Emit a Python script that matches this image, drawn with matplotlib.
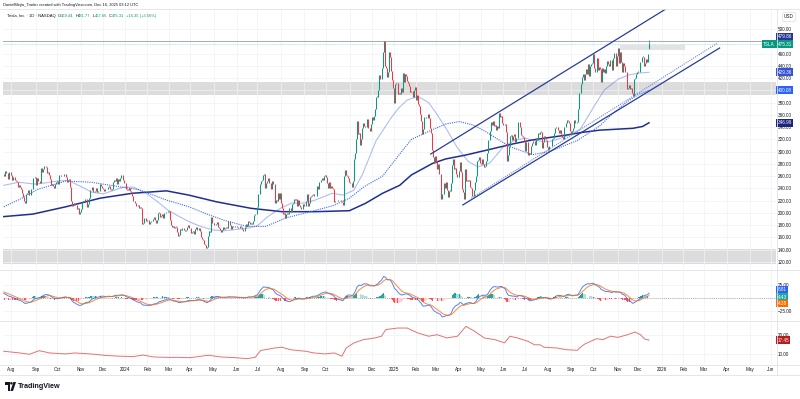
"""TSLA daily chart in TradingView style: candles, MAs, channel, MACD and ATR panes."""

import matplotlib

matplotlib.use("Agg")

import matplotlib.pyplot as plt
import numpy as np
import pandas as pd
from matplotlib.lines import Line2D
from matplotlib.patches import Circle, Polygon, Rectangle
from matplotlib.transforms import Affine2D

plt.rcParams["font.family"] = ["Liberation Sans", "DejaVu Sans"]

W, H = 800, 399

HOLIDAYS = [
    "2023-09-04", "2023-11-23", "2023-12-25", "2024-01-01", "2024-01-15",
    "2024-02-19", "2024-03-29", "2024-05-27", "2024-06-19", "2024-07-04",
    "2024-09-02", "2024-11-28", "2024-12-25", "2025-01-01", "2025-01-09",
    "2025-01-20", "2025-02-17", "2025-04-18", "2025-05-26", "2025-06-19",
    "2025-07-04", "2025-09-01", "2025-11-27", "2025-12-25", "2026-01-01",
    "2026-01-19", "2026-02-16", "2026-04-03", "2026-05-25", "2026-06-19",
]

# daily closes, 2023-07-21 .. 2023-12-29
close_2023 = [
    260.0, 269.1, 265.3, 264.4, 255.7, 266.4, 267.4,
    261.1, 254.1, 259.3, 253.9, 251.5, 249.7, 242.2, 245.3, 242.7, 239.8, 233.0, 225.6,
    219.2, 215.5, 231.3, 233.2, 236.9, 230.0, 238.6, 238.8, 257.2, 256.9, 258.1,
    245.0, 256.5, 251.9, 251.5, 248.5, 273.6, 267.5, 271.3, 276.0, 274.4, 265.3, 266.5,
    262.6, 255.7, 244.9, 247.0, 244.1, 240.5, 246.4, 250.2,
    251.6, 246.5, 261.2, 260.1, 260.5, 259.7, 263.6, 263.0, 258.9, 251.1, 253.9, 254.9,
    242.7, 220.1, 212.0, 212.1, 216.5, 212.4, 205.8, 207.3, 197.4, 200.8,
    205.7, 218.5, 220.0, 219.3, 222.2, 222.1, 210.0, 214.7, 223.7, 237.4, 242.8, 233.6,
    234.3, 235.6, 241.2, 234.2, 235.5, 236.1, 246.7, 244.1, 240.1,
    238.8, 235.6, 238.7, 239.4, 242.6, 243.8, 239.7, 237.0, 239.3, 251.1, 253.5, 252.1,
    257.2, 247.1, 254.5, 252.5, 256.6, 261.4, 253.2, 248.5,
]
close_2024 = [
    248.4, 238.5, 237.9, 237.5, 240.5, 235.0, 233.9, 227.2, 218.9, 219.9, 215.6, 211.9,
    212.2, 208.8, 209.1, 207.8, 182.6, 183.3, 190.9, 191.6, 187.3,
    188.9, 187.9, 181.1, 185.1, 187.6, 189.6, 193.6, 188.1, 184.0, 188.7, 200.5, 200.0,
    193.8, 194.8, 197.4, 192.0, 199.4, 199.7, 202.0, 201.9,
    202.6, 188.1, 180.7, 176.5, 178.7, 175.3, 177.8, 177.5, 169.5, 162.5, 163.6, 173.8,
    171.3, 175.7, 172.8, 170.8, 172.6, 177.7, 179.8, 175.8,
    175.2, 166.6, 168.4, 171.1, 164.9, 173.0, 176.9, 171.8, 174.6, 171.1, 161.5, 157.1,
    155.5, 149.9, 147.1, 142.1, 144.7, 162.1, 170.2, 168.3, 194.1, 183.3,
    180.0, 180.0, 181.2, 184.8, 177.8, 174.7, 172.0, 168.5, 171.9, 177.6, 174.0, 174.8,
    177.5, 175.0, 186.6, 180.1, 173.7, 179.2, 176.8, 176.2, 178.8, 178.1,
    176.3, 174.8, 175.0, 177.9, 177.5, 173.8, 170.7, 177.3, 182.5, 178.0, 187.4, 184.9,
    181.6, 183.0, 182.6, 187.4, 196.4, 197.4, 197.9,
    209.9, 231.3, 246.4, 251.5, 252.9, 262.3, 263.3, 241.0, 248.2, 252.6, 256.6, 248.5,
    249.2, 239.2, 251.5, 246.4, 216.0, 220.3, 219.8, 232.1, 222.6, 232.1,
    216.9, 207.7, 198.9, 200.6, 191.8, 198.8, 200.0, 197.5, 207.8, 201.4, 214.1, 216.1,
    222.7, 221.1, 223.3, 210.7, 220.3, 213.2, 209.2, 205.8, 206.3, 214.1,
    210.6, 219.4, 230.2, 210.7, 216.3, 226.2, 228.1, 229.8, 230.3, 226.8, 227.9, 227.2,
    243.9, 238.3, 250.0, 254.3, 257.0, 254.2, 260.5, 261.6,
    258.0, 249.0, 240.7, 250.1, 240.8, 244.5, 241.1, 238.8, 217.8, 219.2, 219.6, 221.3,
    220.9, 220.7, 218.9, 218.0, 213.7, 260.5, 269.2, 262.5, 259.5, 257.6, 249.9,
    249.0, 242.8, 251.4, 288.5, 296.9, 321.2, 350.0, 328.5, 330.2, 311.2, 320.7, 338.7,
    346.0, 342.0, 339.6, 352.6, 338.6, 338.2, 332.9, 345.2,
    357.1, 351.4, 357.9, 369.5, 389.2, 389.8, 401.0, 424.8, 418.1, 436.2, 463.0, 479.9,
    440.1, 436.2, 421.1, 430.6, 462.3, 454.1, 431.7, 417.4, 403.8,
]
close_2025 = [
    379.3, 410.4, 411.1, 394.4, 394.9, 394.7, 403.3, 396.4, 428.2, 413.8, 426.5, 424.1,
    415.1, 412.4, 406.6, 397.2, 398.1, 389.1, 400.3, 404.6,
    383.7, 392.2, 378.2, 374.3, 361.6, 350.7, 328.5, 336.5, 355.9, 355.8, 354.1, 360.6,
    354.4, 337.8, 330.5, 302.8, 290.8, 282.0, 293.0,
    284.7, 272.0, 279.1, 263.5, 262.7, 222.2, 230.6, 248.1, 240.7, 250.0, 238.0, 225.3,
    235.9, 236.3, 248.7, 278.4, 288.1, 272.1, 273.1, 263.6, 259.2,
    268.5, 282.8, 267.3, 239.4, 233.3, 221.9, 272.2, 252.4, 252.3, 252.4, 254.1, 241.6,
    241.4, 227.5, 238.0, 250.7, 259.5, 285.0, 285.9, 292.0, 282.2,
    280.5, 287.2, 280.3, 275.4, 276.2, 284.8, 298.3, 318.4, 334.1, 347.7, 342.8, 350.0,
    342.1, 343.8, 334.6, 341.0, 339.3, 362.9, 356.9, 358.4, 346.5,
    342.7, 344.3, 332.1, 284.7, 295.1, 308.6, 326.1, 326.4, 319.1, 325.3, 329.1, 316.4,
    322.1, 322.2, 348.7, 340.5, 327.6, 325.8, 323.6, 317.7,
    300.7, 315.7, 315.4, 293.9, 297.8, 295.9, 309.9, 313.5, 316.9, 310.8, 321.7, 319.4,
    329.7, 328.5, 332.1, 332.6, 305.3, 316.1, 325.6, 321.2, 319.0, 308.3,
    302.6, 309.3, 308.7, 319.9, 322.3, 329.7, 339.0, 340.8, 339.4, 335.6, 330.6, 335.2,
    329.3, 323.9, 320.1, 340.0, 346.6, 351.7, 349.6, 346.0, 333.9,
    329.4, 334.1, 338.5, 350.8, 346.4, 347.0, 347.8, 368.8, 395.9, 410.0, 421.6, 425.9,
    416.9, 426.1, 434.2, 425.9, 442.8, 423.4, 440.4, 443.2, 444.7,
    459.5, 436.0, 429.8, 453.3, 433.1, 438.7, 435.5, 413.5, 435.9, 429.2, 435.2, 428.8,
    439.3, 447.4, 442.6, 439.0, 449.0, 433.7, 452.4, 460.6, 461.5, 440.1, 456.6,
    468.4, 444.3, 462.1, 445.9, 429.5, 445.2, 439.6, 430.6, 402.0, 404.4, 408.9, 401.3,
    404.0, 395.2, 391.1, 417.8, 419.4, 426.6, 430.2,
    430.1, 429.2, 446.7, 454.5, 455.0, 439.6, 445.2, 451.5, 446.9, 459.0, 475.3,
]
# last bar as given in the legend
last_ohlc = (469.44, 481.77, 467.66, 475.31)
# closes Jun 1 .. Jul 20 2023, used only to warm up the MACD
warmup_close = [
    207.5, 214.0, 217.6, 221.3, 224.6, 234.9, 244.4, 249.8, 258.7, 256.8, 255.9, 260.5,
    274.5, 259.5, 264.6, 256.6, 241.1, 250.2, 256.2, 257.5, 261.8,
    279.8, 276.5, 277.0, 274.4, 269.6, 269.8, 272.0, 277.9, 281.4, 290.4, 293.3, 291.3,
    262.9,
]

# moving averages
ma_fast = [
    ("2023-07-21", 245), ("2023-08-10", 250), ("2023-08-31", 247), ("2023-09-15", 249),
    ("2023-10-02", 252), ("2023-10-16", 253), ("2023-10-31", 244), ("2023-11-15", 234),
    ("2023-12-01", 231), ("2023-12-15", 237), ("2023-12-29", 242), ("2024-01-12", 242),
    ("2024-01-31", 232), ("2024-02-15", 218), ("2024-02-29", 205), ("2024-03-15", 194),
    ("2024-04-01", 185), ("2024-04-15", 178), ("2024-05-01", 172), ("2024-05-15", 171),
    ("2024-06-03", 173), ("2024-06-17", 175), ("2024-07-01", 179), ("2024-07-15", 193),
    ("2024-08-01", 208), ("2024-08-15", 216), ("2024-09-03", 216), ("2024-09-17", 221),
    ("2024-10-09", 232), ("2024-10-23", 229), ("2024-11-06", 237), ("2024-11-18", 262),
    ("2024-12-06", 318), ("2024-12-27", 355), ("2025-01-08", 371), ("2025-01-22", 384),
    ("2025-02-05", 390), ("2025-02-20", 380), ("2025-03-03", 363), ("2025-03-17", 336),
    ("2025-03-31", 306), ("2025-04-14", 284), ("2025-04-28", 275), ("2025-05-13", 281),
    ("2025-06-02", 308), ("2025-06-16", 318), ("2025-07-01", 322), ("2025-07-15", 318),
    ("2025-08-01", 316), ("2025-08-15", 321), ("2025-09-02", 328), ("2025-09-15", 337),
    ("2025-10-01", 372), ("2025-10-15", 400), ("2025-11-03", 418), ("2025-11-17", 425),
    ("2025-12-01", 428), ("2025-12-15", 429.36),
]
ma_mid = [
    ("2023-07-21", 210), ("2023-08-15", 224), ("2023-09-05", 238), ("2023-10-12", 252),
    ("2023-11-15", 250), ("2023-12-21", 243), ("2024-01-22", 238), ("2024-02-28", 221),
    ("2024-03-28", 210), ("2024-04-23", 198), ("2024-05-15", 188), ("2024-06-14", 178),
    ("2024-07-12", 178), ("2024-08-08", 192), ("2024-09-17", 204), ("2024-10-10", 212),
    ("2024-10-31", 224), ("2024-11-20", 243), ("2024-12-16", 260), ("2025-01-09", 296),
    ("2025-01-28", 320), ("2025-02-26", 336), ("2025-03-14", 345), ("2025-04-02", 349),
    ("2025-04-22", 343), ("2025-05-05", 335), ("2025-06-10", 308), ("2025-07-11", 295),
    ("2025-08-04", 300), ("2025-09-10", 318), ("2025-10-09", 342), ("2025-10-27", 362),
    ("2025-11-14", 382), ("2025-12-01", 393), ("2025-12-15", 400.08),
]
ma_slow = [
    ("2023-07-21", 194), ("2023-08-29", 198), ("2023-10-12", 210), ("2023-11-28", 224),
    ("2024-01-11", 232), ("2024-02-28", 236), ("2024-03-28", 229), ("2024-05-06", 218),
    ("2024-06-21", 207.5), ("2024-08-02", 202), ("2024-09-17", 202), ("2024-10-31", 203.6),
    ("2024-11-21", 215.6), ("2024-12-16", 232), ("2025-01-09", 245), ("2025-01-28", 262),
    ("2025-02-26", 281), ("2025-03-14", 288), ("2025-04-10", 294.5), ("2025-05-29", 308),
    ("2025-06-16", 313), ("2025-07-11", 319), ("2025-08-26", 327), ("2025-09-15", 331),
    ("2025-10-09", 335), ("2025-11-21", 338), ("2025-12-05", 341), ("2025-12-15", 346.99),
]
atr_line = [
    ("2023-07-21", 11.6), ("2023-08-11", 10.7), ("2023-08-24", 10.0), ("2023-09-07", 11.9),
    ("2023-09-21", 10.7), ("2023-10-12", 10.2), ("2023-10-24", 10.7), ("2023-11-06", 10.4),
    ("2023-11-20", 10.0), ("2023-12-05", 9.4), ("2023-12-22", 9.0), ("2024-01-12", 8.8),
    ("2024-01-26", 9.6), ("2024-02-09", 8.6), ("2024-02-28", 8.4), ("2024-03-14", 8.4),
    ("2024-04-01", 8.2), ("2024-04-24", 9.5), ("2024-05-10", 8.6), ("2024-05-31", 8.2),
    ("2024-06-14", 7.7), ("2024-06-27", 8.4), ("2024-07-05", 12.0), ("2024-07-11", 12.4),
    ("2024-07-24", 13.3), ("2024-08-02", 13.7), ("2024-08-14", 12.4), ("2024-09-04", 11.6),
    ("2024-09-16", 10.7), ("2024-09-30", 10.2), ("2024-10-11", 10.7), ("2024-10-22", 9.0),
    ("2024-10-28", 13.3), ("2024-11-06", 15.9), ("2024-11-19", 17.7), ("2024-12-05", 18.6),
    ("2024-12-13", 19.5), ("2024-12-19", 23.0), ("2025-01-07", 23.8), ("2025-01-22", 23.8),
    ("2025-02-05", 21.2), ("2025-02-20", 19.5), ("2025-03-04", 20.3), ("2025-03-17", 18.6),
    ("2025-03-31", 19.5), ("2025-04-10", 24.7), ("2025-04-23", 22.1), ("2025-05-06", 18.6),
    ("2025-05-20", 17.7), ("2025-06-03", 16.0), ("2025-06-10", 19.5), ("2025-06-20", 18.6),
    ("2025-07-07", 16.8), ("2025-07-15", 15.0), ("2025-07-22", 15.0), ("2025-07-28", 13.7),
    ("2025-08-13", 13.3), ("2025-08-26", 12.4), ("2025-09-10", 12.1), ("2025-09-12", 13.3),
    ("2025-09-19", 15.4), ("2025-10-06", 18.2), ("2025-10-14", 17.7), ("2025-10-23", 19.5),
    ("2025-11-03", 18.9), ("2025-11-14", 20.3), ("2025-11-25", 21.7), ("2025-12-03", 20.3),
    ("2025-12-09", 18.0), ("2025-12-15", 17.45),
]

# drawings
channel_upper = [("2025-02-24", 296), ("2026-01-09", 534)]
channel_lower = [("2025-04-07", 213), ("2026-03-23", 469)]
channel_inner = [("2025-04-17", 224), ("2026-03-19", 477)]
zones = [(392, 413), (117, 141)]
top_box = [("2025-11-05", 465), ("2026-02-04", 474)]
ath_close = 479.86

UP, DOWN = "#089981", "#F23645"
TXT = "#131722"
GRID = "#f0f2f6"
SEP = "#e0e3eb"
FS = 3.3

# ---- calendar (bar index axis like TradingView)
closes = np.array(close_2023 + close_2024 + close_2025, dtype=float)
cal = pd.bdate_range("2023-07-21", "2026-06-30", freq="C", holidays=HOLIDAYS)
n = len(closes)
if cal[n - 1] != pd.Timestamp("2025-12-15"):
    raise SystemExit(f"calendar mismatch: {n} bars ends {cal[n - 1]}")


def bar_of(day):
    return int(cal.searchsorted(pd.Timestamp(day)))


def series(points):
    return [bar_of(d) for d, _ in points], [v for _, v in points]


x = np.arange(n)
opens = np.r_[warmup_close[-1], closes[:-1]]
opens[-1] = last_ohlc[0]
up = closes >= opens
lo = np.minimum(opens, closes)
hi = np.maximum(np.maximum(opens, closes), lo + 0.8)

full = pd.Series(warmup_close + list(closes))
macd_full = full.ewm(span=12, adjust=False).mean() - full.ewm(span=26, adjust=False).mean()
signal_full = macd_full.ewm(span=9, adjust=False).mean()
k = len(warmup_close)
macd = macd_full.values[k:]
signal = signal_full.values[k:]
hist = macd - signal
prev = np.r_[hist[0], hist[:-1]]
hist_col = np.where(hist >= 0,
                    np.where(hist >= prev, "#26A69A", "#B2DFDB"),
                    np.where(hist < prev, "#FF5252", "#FFCDD2"))

months = cal.to_period("M")
starts = np.nonzero(months[1:] != months[:-1])[0] + 1
tick_labels = [str(cal[i].year) if cal[i].month == 1 else cal[i].strftime("%b") for i in starts]

# ---- figure
fig = plt.figure(figsize=(W / 100, H / 100), dpi=100, facecolor="white")


def rect(l, t, r, b):
    return [l / W, 1 - b / H, (r - l) / W, (b - t) / H]


ax = fig.add_axes(rect(3, 9, 776, 269))
ax_macd = fig.add_axes(rect(3, 270, 776, 320), sharex=ax)
ax_atr = fig.add_axes(rect(3, 321, 776, 364), sharex=ax)

for a in (ax, ax_macd, ax_atr):
    a.set_facecolor("white")
    for s in a.spines.values():
        s.set_visible(False)
    a.yaxis.tick_right()
    a.tick_params(length=0, labelsize=FS, labelcolor=TXT, pad=1.5)
    a.grid(color=GRID, lw=0.5)
    a.set_axisbelow(True)

ax.set_xlim(-0.75, 721.7)
ax.set_xticks(starts)
ax_atr.set_xticklabels(tick_labels)
ax.tick_params(labelbottom=False)
ax_macd.tick_params(labelbottom=False)
ax_atr.tick_params(axis="x", pad=2.2)

# ---- main pane
ax.set_ylim(108.5, 532.6)
yt = np.arange(120, 501, 20)
ax.set_yticks(yt)
# the 480 label sits under the 479.86 tag in the reference
ax.set_yticklabels(["" if v == 480 else f"{v:.2f}" for v in yt])

for z0, z1 in zones:
    ax.axhspan(z0, z1, color="#d9d9d9", alpha=0.9, lw=0, zorder=0.5)
(b0, p0), (b1, p1) = [(bar_of(d), p) for d, p in top_box]
ax.add_patch(Rectangle((b0, p0), b1 - b0, p1 - p0, fc="#e3e3e3", ec="none", zorder=0.6))

ax.axhline(ath_close, color="#3a4bb0", alpha=0.45, lw=0.7, zorder=1)
ax.axhline(last_ohlc[3], color=UP, alpha=0.35, lw=0.6, ls=(0, (1, 1)), zorder=1)

bx, by = series(ma_slow)
ax.plot(bx, by, color="#1f2f8f", lw=1.1, zorder=2)
bx, by = series(ma_mid)
ax.plot(bx, by, color="#3f6af0", lw=0.8, ls=(0, (1, 1)), zorder=2)
bx, by = series(ma_fast)
ax.plot(bx, by, color="#3b5bdb", alpha=0.4, lw=0.8, zorder=2)

ax.vlines(x, lo, hi, colors=np.where(up, UP, DOWN), lw=0.75, zorder=3)
ax.vlines(n - 1, last_ohlc[2], last_ohlc[1], colors=UP, lw=0.5, zorder=3)

for pts in (channel_upper, channel_lower):
    bx, by = series(pts)
    ax.plot(bx, by, color="#2a3c9c", lw=0.9, zorder=4)
bx, by = series(channel_inner)
ax.plot(bx, by, color="#6f86d6", lw=0.8, ls=(0, (1, 1)), zorder=4)


def tag(a, val, text, color, dy=0.0):
    a.annotate(text, xy=(1, val), xycoords=a.get_yaxis_transform(), xytext=(1.0, dy),
               textcoords="offset points", ha="left", va="center", fontsize=FS,
               color="white", annotation_clip=False, zorder=20,
               bbox=dict(boxstyle="square,pad=0.3", fc=color, ec="none"))


tag(ax, ath_close, "479.86", "#283593", dy=3.4)
tag(ax, last_ohlc[3], "475.31", UP)
ax.annotate("TSLA", xy=(1, last_ohlc[3]), xycoords=ax.get_yaxis_transform(), xytext=(-0.8, 0),
            textcoords="offset points", ha="right", va="center", fontsize=FS, color="white",
            annotation_clip=False, zorder=20,
            bbox=dict(boxstyle="square,pad=0.3", fc=UP, ec="none"))
tag(ax, 429.36, "429.36", "#3552d6")
tag(ax, 400.08, "400.08", "#2962ff")
tag(ax, 346.99, "346.99", "#1a237e")

# ---- MACD pane
ax_macd.set_ylim(-41.4, 52.6)
ax_macd.set_yticks([-25, 0, 25])
ax_macd.set_yticklabels(["−25.00", "0.00", "25.00"])
ax_macd.axhline(0, color="#9598a1", lw=0.5, ls=(0, (1.5, 1.5)), zorder=1)
ax_macd.bar(x, hist, width=0.8, color=hist_col, lw=0, zorder=2)
ax_macd.plot(x, macd, color="#2962FF", lw=0.7, alpha=0.8, zorder=3)
ax_macd.plot(x, signal, color="#FF6D00", lw=0.7, alpha=0.8, zorder=3)
tag(ax_macd, 8.81, "8.81", "#2962FF", dy=2.6)
tag(ax_macd, 4.43, "4.43", "#26A69A", dy=-1.0)
tag(ax_macd, 4.38, "4.38", "#FF6D00", dy=-5.6)

# ---- ATR pane
ax_atr.set_ylim(4.9, 27.5)
ax_atr.set_yticks([10, 20])
ax_atr.set_yticklabels(["10.00", "20.00"])
bx, by = series(atr_line)
ax_atr.plot(bx, by, color="#e05a5a", lw=0.7, alpha=0.85, zorder=3)
tag(ax_atr, 17.45, "17.45", "#b71c1c")

for lbl in ax_atr.get_xticklabels():
    lbl.set_color(TXT)
    lbl.set_fontsize(FS)


# ---- frame, separators, texts
def hline(y, x0=0, x1=W):
    fig.add_artist(Line2D([x0 / W, x1 / W], [1 - y / H] * 2, color=SEP, lw=0.6))


for yy in (9, 269.5, 320.5, 364.5, 375):
    hline(yy)
fig.add_artist(Line2D([776.5 / W] * 2, [1 - 9 / H, 1 - 375 / H], color=SEP, lw=0.6))

fig.text(3 / W, 1 - 4.8 / H, "DanielMejia_Trader created with TradingView.com, Dec 16, 2025 03:12 UTC",
         fontsize=2.9, color=TXT, va="center", ha="left")

renderer = fig.canvas.get_renderer()
px = 7.0
parts = [("Tesla, Inc. · 1D · NASDAQ", TXT, 2.0), ("O", TXT, 0.2), ("469.44", UP, 1.5),
         ("H", TXT, 0.2), ("481.77", UP, 1.5), ("L", TXT, 0.2), ("467.66", UP, 1.5),
         ("C", TXT, 0.2), ("475.31", UP, 1.5), ("+16.35 (+3.56%)", UP, 0)]
for s, c, gap in parts:
    t = fig.text(px / W, 1 - 15.7 / H, s, fontsize=3.0, color=c, va="center", ha="left")
    px += t.get_window_extent(renderer).width + gap

fig.text(789 / W, 1 - 17 / H, "USD", fontsize=FS, color=TXT, ha="center", va="center",
         bbox=dict(boxstyle="round,pad=0.4", fc="white", ec="#d1d4dc", lw=0.4))

# TradingView logo
pix = Affine2D().scale(1, -1).translate(0, H)
fig.add_artist(Polygon([(5, 382), (9.8, 382), (9.8, 391), (7.6, 391), (7.6, 384.6), (5, 384.6)],
                       closed=True, fc=TXT, ec="none", transform=pix))
fig.add_artist(Circle((11.4, 383.3), 1.25, fc=TXT, ec="none", transform=pix))
fig.add_artist(Polygon([(13.4, 382), (16.0, 382), (13.0, 391), (10.4, 391)],
                       closed=True, fc=TXT, ec="none", transform=pix))
fig.text(17.5 / W, 1 - 386.5 / H, "TradingView", fontsize=5.2, fontweight="bold", color=TXT,
         va="center", ha="left")

fig.savefig("out.png", dpi=100, facecolor="white")
